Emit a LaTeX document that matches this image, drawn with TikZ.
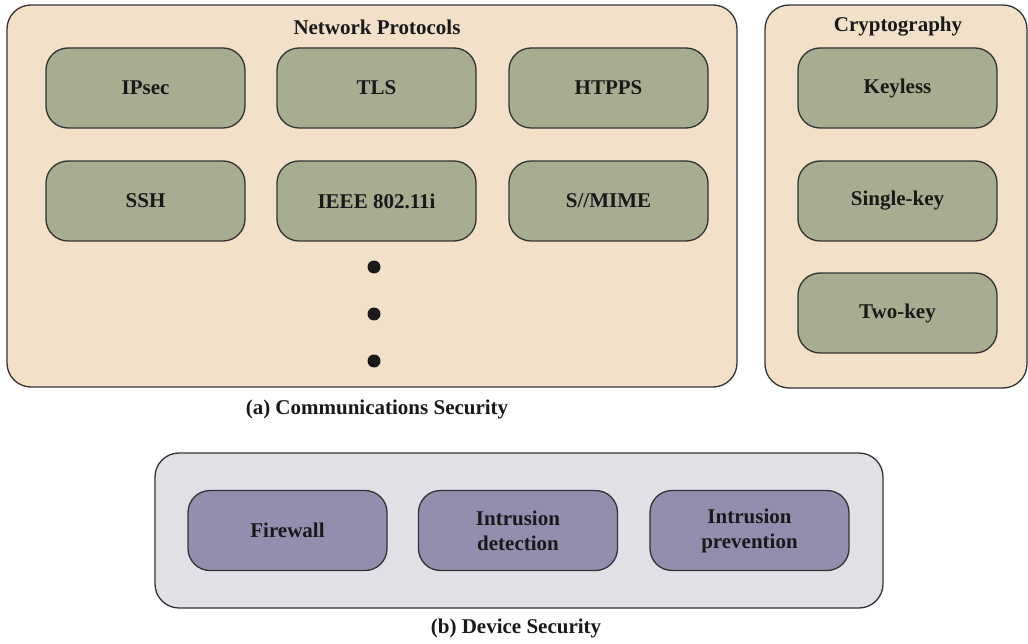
\documentclass[tikz,border=0pt]{standalone}
\usepackage{fontspec}
\setmainfont{Liberation Serif}
\definecolor{beige}{HTML}{F2E0C8}
\definecolor{olive}{HTML}{A7AD91}
\definecolor{lgray}{HTML}{E1E0E7}
\definecolor{lilac}{HTML}{928FAE}
\definecolor{edge}{HTML}{333333}
\begin{document}
\begin{tikzpicture}[x=1pt,y=-1pt,
  outerbox/.style={draw=edge,line width=1.3pt,rounded corners=24pt},
  gbox/.style={draw=edge,line width=1.3pt,rounded corners=22pt,fill=olive,
    minimum width=199pt,minimum height=80pt,inner sep=0pt,
    font=\fontsize{21}{25}\selectfont\bfseries,text=black!90,align=center},
  pbox/.style={gbox,fill=lilac},
  lbl/.style={font=\fontsize{21}{25}\selectfont\bfseries,text=black!90,align=center},
  dotn/.style={circle,fill=black!90,minimum size=13pt,inner sep=0pt}]
\useasboundingbox (0,0) rectangle (1028,644);
% outer boxes
\draw[outerbox,fill=beige] (7,5) rectangle (737,387);
\draw[outerbox,fill=beige] (765,5) rectangle (1027,388);
\draw[outerbox,fill=lgray] (155,453) rectangle (883,608);
% titles
\node[lbl] (np) at (377,27) {Network Protocols};
\node[lbl] (cr) at (898,27) {Cryptography};
% network protocol boxes
\node[gbox] (ipsec) at (145.5,88) {IPsec};
\node[gbox] (tls) at (376.5,88) {TLS};
\node[gbox] (htpps) at (608.5,88) {HTPPS};
\node[gbox] (ssh) at (145.5,201) {SSH};
\node[gbox] (ieee) at (376.5,201) {IEEE 802.11i};
\node[gbox] (smime) at (608.5,201) {S//MIME};
% dots
\node[dotn] (d1) at (374,267) {};
\node[dotn] (d2) at (374,314) {};
\node[dotn] (d3) at (374,361) {};
% crypto boxes
\node[gbox] (keyless) at (897.5,88) {Keyless};
\node[gbox] (single) at (897.5,201) {Single-key};
\node[gbox] (two) at (897.5,313) {Two-key};
\node[lbl] (capa) at (377,409) {(a) Communications Security};
% device boxes
\node[pbox] (fw) at (287.5,530.5) {Firewall};
\node[pbox] (ids) at (518,530.5) {Intrusion\\detection};
\node[pbox] (ips) at (749.5,530.5) {Intrusion\\prevention};
\node[lbl] (capb) at (516,628) {(b) Device Security};
\end{tikzpicture}
\end{document}
